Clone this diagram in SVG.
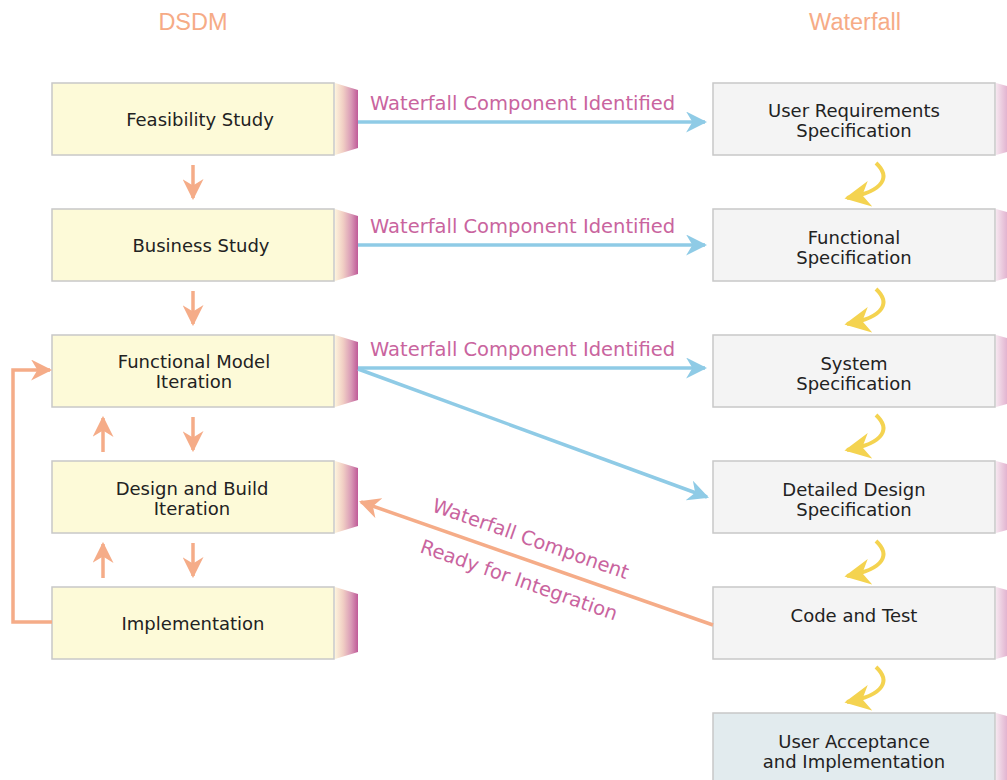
<svg xmlns="http://www.w3.org/2000/svg" width="1007" height="780" viewBox="0 0 1007 780">
<style>
.t{font-family:"DejaVu Sans",Verdana,sans-serif;font-size:18px;fill:#222;text-anchor:middle}
.h{font-family:"Liberation Sans Narrow","Liberation Sans",sans-serif;font-stretch:condensed;font-size:23.5px;fill:#f6ab86;text-anchor:middle}
.l{font-family:"DejaVu Sans",Verdana,sans-serif;font-size:19.5px;fill:#c9649e}
.lb{fill:#fdfad8;stroke:#c8c8c8;stroke-width:1.5}
.rb{fill:#f4f4f4;stroke:#c8c8c8;stroke-width:1.5}
.ub{fill:#e2ebee;stroke:#c8c8c8;stroke-width:1.5}
.bl{stroke:#8fcbe6;stroke-width:3.5;fill:none;marker-end:url(#ab)}
.or{stroke:#f5ac88;stroke-width:3.5;fill:none;marker-end:url(#ao)}
.ye{stroke:#f4d350;stroke-width:4;fill:none;marker-end:url(#ay)}
</style>
<defs>
<linearGradient id="sg" x1="0" x2="1" y1="0" y2="0">
<stop offset="0" stop-color="#fdf3dc"/>
<stop offset="0.35" stop-color="#f1cfc4"/>
<stop offset="0.7" stop-color="#d99ab6"/>
<stop offset="1" stop-color="#c05a98"/>
</linearGradient>
<linearGradient id="rg" x1="0" x2="1" y1="0" y2="0">
<stop offset="0" stop-color="#f6e6ef"/>
<stop offset="1" stop-color="#e2b4d0"/>
</linearGradient>
<marker id="ab" viewBox="0 0 10 10" refX="9" refY="5" markerWidth="6" markerHeight="6" orient="auto" markerUnits="strokeWidth"><path d="M0,0 L10,5 L0,10 L3,5 z" fill="#8fcbe6"/></marker>
<marker id="ao" viewBox="0 0 10 10" refX="9" refY="5" markerWidth="6" markerHeight="6" orient="auto" markerUnits="strokeWidth"><path d="M0,0 L10,5 L0,10 L3,5 z" fill="#f5ac88"/></marker>
<marker id="ay" viewBox="0 0 10 10" refX="9" refY="5" markerWidth="6.5" markerHeight="6.5" orient="auto" markerUnits="strokeWidth"><path d="M0,0 L10,5 L0,10 L3,5 z" fill="#f4d350"/></marker>
<g id="ls"><path d="M335,83 L358,90 L358,148 L335,155 z" fill="url(#sg)"/></g>
<g id="rs"><path d="M996,83 L1007,86 L1007,152 L996,155 z" fill="url(#rg)"/></g>
</defs>
<rect width="1007" height="780" fill="#fff"/>
<text class="h" x="193" y="30">DSDM</text>
<text class="h" x="855" y="30">Waterfall</text>

<g id="feasibility"><rect class="lb" x="52" y="83" width="282" height="72"/><use href="#ls"/><text class="t" x="200" y="126">Feasibility Study</text></g>
<g id="business"><rect class="lb" x="52" y="209" width="282" height="72"/><use href="#ls" y="126"/><text class="t" x="201" y="252">Business Study</text></g>
<g id="fmi"><rect class="lb" x="52" y="335" width="282" height="72"/><use href="#ls" y="252"/><text class="t" x="194" y="368">Functional Model</text><text class="t" x="194" y="388">Iteration</text></g>
<g id="dbi"><rect class="lb" x="52" y="461" width="282" height="72"/><use href="#ls" y="378"/><text class="t" x="192" y="495">Design and Build</text><text class="t" x="192" y="515">Iteration</text></g>
<g id="impl"><rect class="lb" x="52" y="587" width="282" height="72"/><use href="#ls" y="504"/><text class="t" x="193" y="630">Implementation</text></g>

<g id="urs"><rect class="rb" x="713" y="83" width="282" height="72"/><use href="#rs"/><text class="t" x="854" y="117">User Requirements</text><text class="t" x="854" y="137">Specification</text></g>
<g id="fs"><rect class="rb" x="713" y="209" width="282" height="72"/><use href="#rs" y="126"/><text class="t" x="854" y="244">Functional</text><text class="t" x="854" y="264">Specification</text></g>
<g id="ss"><rect class="rb" x="713" y="335" width="282" height="72"/><use href="#rs" y="252"/><text class="t" x="854" y="370">System</text><text class="t" x="854" y="390">Specification</text></g>
<g id="dds"><rect class="rb" x="713" y="461" width="282" height="72"/><use href="#rs" y="378"/><text class="t" x="854" y="496">Detailed Design</text><text class="t" x="854" y="516">Specification</text></g>
<g id="ct"><rect class="rb" x="713" y="587" width="282" height="72"/><use href="#rs" y="504"/><text class="t" x="854" y="622">Code and Test</text></g>
<g id="uai"><rect class="ub" x="713" y="713" width="282" height="80"/><use href="#rs" y="630"/><text class="t" x="854" y="748">User Acceptance</text><text class="t" x="854" y="768">and Implementation</text></g>

<g id="connectors">
<path class="bl" d="M358,122 H705"/>
<path class="bl" d="M358,245 H705"/>
<path class="bl" d="M358,368 H705"/>
<path class="bl" d="M358,369 L707,497"/>
<path class="or" d="M713,625 L361,502"/>
<path class="or" d="M193,165 V198"/>
<path class="or" d="M193,291 V324"/>
<path class="or" d="M193,417 V450"/>
<path class="or" d="M193,543 V576"/>
<path class="or" d="M103,452 V418"/>
<path class="or" d="M103,578 V544"/>
<path class="or" d="M52,622 H13 V370 H50"/>
<path class="ye" d="M876,163 C890,176 886,191 847,198"/>
<path class="ye" d="M876,289 C890,302 886,317 847,324"/>
<path class="ye" d="M876,415 C890,428 886,443 847,450"/>
<path class="ye" d="M876,541 C890,554 886,569 847,576"/>
<path class="ye" d="M876,667 C890,680 886,695 847,702"/>
</g>
<text class="l" x="370" y="110">Waterfall Component Identified</text>
<text class="l" x="370" y="233">Waterfall Component Identified</text>
<text class="l" x="370" y="356">Waterfall Component Identified</text>
<text class="l" transform="translate(431,511) rotate(19.3)">Waterfall Component</text>
<text class="l" transform="translate(419,552) rotate(19.3)">Ready for Integration</text>
</svg>
